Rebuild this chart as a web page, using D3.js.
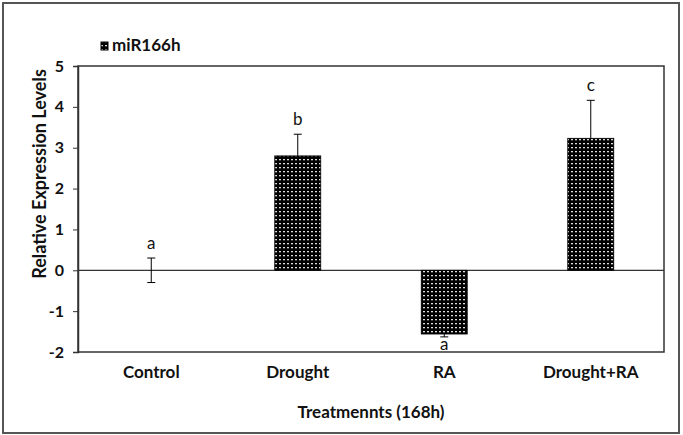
<!DOCTYPE html>
<html>
<head>
<meta charset="utf-8">
<script src="https://cdn.jsdelivr.net/npm/d3@7"></script>
<style>
  body { margin: 0; background: #fff; }
  text { font-family: Lato, "Open Sans", sans-serif; font-weight: bold; fill: #111; }
</style>
</head>
<body>
<svg id="chart" width="683" height="435"></svg>
<script>
// chart data
var categories = ['Control', 'Drought', 'RA', 'Drought+RA'];
var values = [0, 2.8, -1.56, 3.23];
var errors = [0.3, 0.53, 0.07, 0.93];
var letters = ['a', 'b', 'a', 'c'];
var yTicks = [-2, -1, 0, 1, 2, 3, 4, 5];

var svg = d3.select('#chart');
var margin = {left: 78, right: 19, top: 66, bottom: 83};
var width = 683 - margin.left - margin.right;
var height = 435 - margin.top - margin.bottom;

// outer frame
svg.append('rect')
    .attr('x', 3).attr('y', 3)
    .attr('width', 676).attr('height', 430)
    .attr('fill', 'none')
    .attr('stroke', '#555')
    .attr('stroke-width', 2);

// dotted fill pattern
var pat = svg.append('defs').append('pattern')
    .attr('id', 'dots')
    .attr('patternUnits', 'userSpaceOnUse')
    .attr('width', 4).attr('height', 4);
pat.append('rect').attr('width', 4).attr('height', 4).attr('fill', '#000');
pat.append('rect').attr('x', 1).attr('y', 1).attr('width', 2).attr('height', 1.3).attr('fill', '#ddd');

var g = svg.append('g')
    .attr('transform', 'translate(' + margin.left + ',' + margin.top + ')');

var x = d3.scaleBand().domain(categories).range([0, width]);
var y = d3.scaleLinear().domain([-2, 5]).range([height, 0]);

// plot box
g.append('rect')
    .attr('width', width).attr('height', height)
    .attr('fill', 'none')
    .attr('stroke', '#333')
    .attr('stroke-width', 1.5);

// zero line
g.append('line')
    .attr('x1', 0).attr('x2', width)
    .attr('y1', y(0)).attr('y2', y(0))
    .attr('stroke', '#333')
    .attr('stroke-width', 1.2);

var yAxis = g.append('g')
    .call(d3.axisLeft(y).tickValues(yTicks).tickSize(5).tickPadding(9)
      .tickFormat(function(d) { return String(d); }));
yAxis.select('.domain').attr('stroke', '#333').attr('stroke-width', 1.5);
yAxis.selectAll('line').attr('stroke', '#333');
yAxis.selectAll('text').style('font-size', '16px').attr('fill', '#111');

var barW = 46;
g.selectAll('.bar')
    .data(values)
  .enter().append('rect')
    .attr('class', 'bar')
    .attr('x', function(d, i) { return x(categories[i]) + x.bandwidth() / 2 - barW / 2; })
    .attr('y', function(d) { return y(Math.max(0, d)); })
    .attr('width', barW)
    .attr('height', function(d) { return Math.abs(y(d) - y(0)); })
    .attr('fill', 'url(#dots)')
    .attr('stroke', '#000')
    .attr('stroke-width', 0.8);

// error bars
var cap = 4;
values.forEach(function(v, i) {
  var cx = x(categories[i]) + x.bandwidth() / 2;
  var lo = v < 0 ? v - errors[i] : (v === 0 ? -errors[i] : v);
  var hi = v < 0 ? v : v + errors[i];
  g.append('line')
      .attr('x1', cx).attr('x2', cx)
      .attr('y1', y(lo)).attr('y2', y(hi))
      .attr('stroke', '#000');
  if (v >= 0) {
    g.append('line')
        .attr('x1', cx - cap).attr('x2', cx + cap)
        .attr('y1', y(hi)).attr('y2', y(hi))
        .attr('stroke', '#000');
  }
  if (v <= 0) {
    g.append('line')
        .attr('x1', cx - cap).attr('x2', cx + cap)
        .attr('y1', y(lo)).attr('y2', y(lo))
        .attr('stroke', '#000');
  }
  // significance letters
  g.append('text')
      .attr('x', cx)
      .attr('y', v < 0 ? y(lo) + 13 : y(hi) - 9)
      .attr('text-anchor', 'middle')
      .style('font-size', '17px')
      .style('font-weight', 'normal')
      .text(letters[i]);
});

// category labels
g.selectAll('.cat')
    .data(categories)
  .enter().append('text')
    .attr('x', function(d) { return x(d) + x.bandwidth() / 2; })
    .attr('y', height + 26)
    .attr('text-anchor', 'middle')
    .style('font-size', '17px')
    .text(function(d) { return d; });

// axis titles
svg.append('text')
    .attr('x', margin.left + width / 2)
    .attr('y', 418)
    .attr('text-anchor', 'middle')
    .style('font-size', '17px')
    .text('Treatmennts (168h)');

svg.append('text')
    .attr('transform', 'translate(46,174) rotate(-90)')
    .attr('text-anchor', 'middle')
    .style('font-size', '18px')
    .text('Relative Expression Levels');

// legend
svg.append('rect')
    .attr('x', 101).attr('y', 42)
    .attr('width', 7).attr('height', 8)
    .attr('fill', 'url(#dots)')
    .attr('stroke', '#000');
svg.append('text')
    .attr('x', 112).attr('y', 51)
    .style('font-size', '17px')
    .text('miR166h');
</script>
</body>
</html>
